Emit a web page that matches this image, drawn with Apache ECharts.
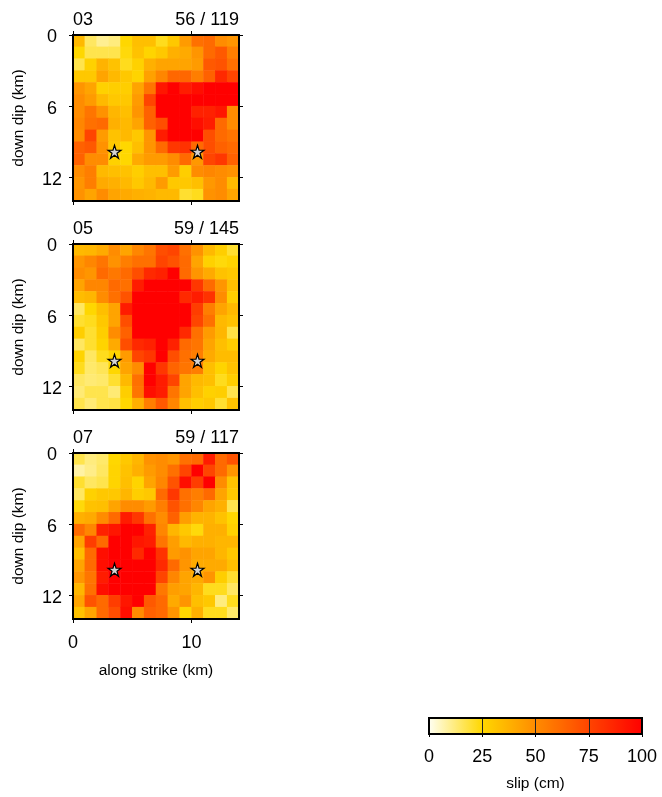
<!DOCTYPE html>
<html><head><meta charset="utf-8">
<style>html,body{margin:0;padding:0;background:#fff}#c{width:662px;height:797px}</style>
<script src="https://cdn.jsdelivr.net/npm/echarts@6/dist/echarts.min.js"></script>
</head><body><div id="c"></div>
<script>
const cellLabels = ['0','1','2','3','4','5','6','7','8','9','10','11','12','13'];
const starX = [3.5, 10.5];
const starY = [9.85, 9.85];
const xTicks = [0, 10];
const yTicks = [0, 6, 12];
const colorStops = ['#fffff2', '#ffd700', '#ff8c00', '#ff4500', '#ff0000'];
const barTicks = [0, 25, 50, 75, 100];

const slip03 = [
 [35,15,10,12,25,33,33,22,30,45,60,62,50,47],
 [25,17,17,17,24,32,26,30,38,40,47,62,68,55],
 [17,27,37,32,22,27,38,42,42,42,45,68,70,60],
 [30,30,42,35,30,26,43,52,63,63,55,65,85,75],
 [47,42,27,28,28,42,58,92,100,90,95,100,100,100],
 [50,45,35,30,30,45,75,100,100,100,100,100,100,100],
 [50,58,48,36,33,47,65,100,100,100,88,88,92,50],
 [52,60,62,38,35,42,65,72,100,100,95,90,62,50],
 [50,75,45,32,35,30,47,90,100,100,100,72,62,58],
 [65,68,48,30,25,33,47,62,80,82,62,72,65,62],
 [65,50,50,27,25,40,45,45,50,62,46,75,80,65],
 [50,55,35,33,32,28,33,33,45,28,50,52,50,48],
 [47,55,40,38,35,30,35,45,30,30,33,46,50,35],
 [48,42,50,42,40,38,37,35,35,20,22,48,50,42]
];
const slip05 = [
 [35,36,40,50,42,52,58,72,75,60,48,35,28,20],
 [47,52,58,48,55,60,60,75,70,62,42,27,24,26],
 [50,47,62,57,62,72,85,88,100,62,47,40,32,30],
 [42,52,52,62,60,90,100,100,100,100,80,62,47,33],
 [34,36,50,60,70,100,100,100,100,85,90,82,50,28],
 [15,25,33,42,90,100,100,100,100,100,78,55,42,35],
 [20,22,30,42,72,100,100,100,100,100,75,60,35,32],
 [28,20,28,50,65,100,100,100,100,85,60,45,36,18],
 [15,20,26,40,72,85,88,100,88,62,58,42,33,28],
 [26,15,22,26,45,75,80,100,72,60,55,40,34,34],
 [22,14,16,25,42,50,100,80,64,58,55,33,26,32],
 [15,13,14,20,35,60,100,90,75,42,35,33,22,28],
 [13,17,17,13,28,58,95,90,58,42,33,27,28,17],
 [17,13,17,18,25,38,55,68,52,33,28,30,20,32]
];
const slip07 = [
 [17,12,14,25,30,36,48,50,47,60,62,90,62,70],
 [8,11,15,26,32,38,45,50,60,75,100,75,62,47],
 [20,15,17,26,33,26,42,52,70,95,78,100,50,32],
 [15,27,30,30,36,28,30,62,80,60,55,62,42,30],
 [24,32,33,42,50,50,45,55,70,60,52,42,38,17],
 [38,40,50,62,90,80,60,50,65,44,37,37,32,25],
 [62,52,88,92,100,100,88,52,36,30,24,38,38,27],
 [42,78,62,100,100,92,90,58,44,35,38,38,36,36],
 [33,62,95,100,100,85,100,82,45,48,42,42,36,30],
 [42,62,95,100,100,100,100,85,62,47,40,40,40,33],
 [47,58,90,100,100,100,100,75,52,42,40,47,28,20],
 [36,60,95,100,100,100,100,57,44,42,36,22,22,15],
 [42,70,62,78,92,100,68,62,40,47,33,30,12,22],
 [32,42,62,72,95,50,65,62,47,25,38,22,22,14]
];
const panelIds = ['03', '05', '07'];
const panelCounts = ['56 / 119', '59 / 145', '59 / 117'];
const panelData = [slip03, slip05, slip07];
const panelTops = [35, 244, 453];

const FONT = '"Liberation Sans", Arial, sans-serif';
const STAR = 'path://M50 0 L61.8 36.3 L100 36.3 L69.1 58.8 L80.9 95.1 L50 72.7 L19.1 95.1 L30.9 58.8 L0 36.3 L38.2 36.3 Z';
const line = w => ({show: true, onZero: false, lineStyle: {color: '#000', width: w, cap: 'square'}});
const tick = vals => ({show: true, length: 4, inside: false, lineStyle: {color: '#000', width: 1}, customValues: vals});
const TICKFONT = 18, NAMEFONT = 15.5;

const grids = [], xAxes = [], yAxes = [], series = [], titles = [];
panelIds.forEach((id, p) => {
  grids.push({left: 73, top: panelTops[p], width: 166, height: 166, containLabel: false});
  const last = p === panelIds.length - 1;
  const ax0 = xAxes.length, ay0 = yAxes.length;
  xAxes.push({gridIndex: p, type: 'category', data: cellLabels, show: false});
  xAxes.push({gridIndex: p, type: 'value', position: 'bottom', min: 0, max: 14, z: 5, axisLine: line(2), axisTick: tick(xTicks), splitLine: {show: false},
    axisLabel: {show: last, customValues: xTicks, fontSize: TICKFONT, color: '#000', fontFamily: FONT, margin: 15},
    name: last ? 'along strike (km)' : '', nameLocation: 'middle', nameGap: 44, nameTextStyle: {fontSize: NAMEFONT, color: '#000', fontFamily: FONT}});
  xAxes.push({gridIndex: p, type: 'value', position: 'top', min: 0, max: 14, z: 5, axisLine: line(2), axisTick: tick(xTicks), axisLabel: {show: false}, splitLine: {show: false}});
  yAxes.push({gridIndex: p, type: 'category', data: cellLabels, inverse: true, show: false});
  yAxes.push({gridIndex: p, type: 'value', position: 'left', inverse: true, min: 0, max: 14, z: 5, axisLine: line(2), axisTick: tick(yTicks), splitLine: {show: false},
    axisLabel: {customValues: yTicks, fontSize: TICKFONT, color: '#000', fontFamily: FONT, margin: 21, align: 'center', verticalAlign: 'top', lineHeight: 5},
    name: 'down dip (km)', nameLocation: 'middle', nameGap: 46, nameRotate: 90, nameTextStyle: {fontSize: NAMEFONT, color: '#000', fontFamily: FONT}});
  yAxes.push({gridIndex: p, type: 'value', position: 'right', inverse: true, min: 0, max: 14, z: 5, axisLine: line(2), axisTick: tick(yTicks), axisLabel: {show: false}, splitLine: {show: false}});
  const cells = [];
  panelData[p].forEach((row, r) => row.forEach((v, c) => cells.push([c, r, v])));
  series.push({type: 'heatmap', xAxisIndex: ax0, yAxisIndex: ay0, data: cells, z: 2, itemStyle: {borderWidth: 0}, silent: true});
  series.push({type: 'scatter', xAxisIndex: ax0 + 1, yAxisIndex: ay0 + 1, data: starX.map((x, i) => [x, starY[i]]), z: 6, symbol: STAR, symbolSize: 13,
    itemStyle: {color: '#d3d3d3', borderColor: '#000', borderWidth: 1.2, opacity: 1}, silent: true});
  titles.push({text: id, left: 73, top: panelTops[p] - 24, padding: 0, textStyle: {fontSize: TICKFONT, fontWeight: 'normal', color: '#000', fontFamily: FONT}});
  titles.push({text: panelCounts[p], right: 662 - 239, top: panelTops[p] - 24, padding: 0, textStyle: {fontSize: TICKFONT, fontWeight: 'normal', color: '#000', fontFamily: FONT}});
});

// colour bar frame and scale, drawn over the visualMap ramp
const g = grids.length;
grids.push({left: 429, top: 718, width: 213, height: 16, z: 10});
xAxes.push({gridIndex: g, type: 'value', position: 'bottom', min: 0, max: 100, interval: 25, z: 10, axisLine: line(2), axisTick: {show: true, length: 3, lineStyle: {color: '#000', width: 1}},
  splitLine: {show: true, lineStyle: {color: '#222', width: 1}},
  axisLabel: {fontSize: TICKFONT, color: '#000', fontFamily: FONT, margin: 14, customValues: barTicks},
  name: 'slip (cm)', nameLocation: 'middle', nameGap: 42, nameTextStyle: {fontSize: NAMEFONT, color: '#000', fontFamily: FONT}});
xAxes.push({gridIndex: g, type: 'value', position: 'top', min: 0, max: 100, z: 10, axisLine: line(2), axisTick: {show: false}, axisLabel: {show: false}, splitLine: {show: false}});
yAxes.push({gridIndex: g, type: 'value', position: 'left', min: 0, max: 1, z: 10, axisLine: line(2), axisTick: {show: false}, axisLabel: {show: false}, splitLine: {show: false}});
yAxes.push({gridIndex: g, type: 'value', position: 'right', min: 0, max: 1, z: 10, axisLine: line(2), axisTick: {show: false}, axisLabel: {show: false}, splitLine: {show: false}});

const chart = echarts.init(document.getElementById('c'), null, {renderer: 'canvas'});
chart.setOption({
  animation: false,
  backgroundColor: '#fff',
  title: titles,
  grid: grids,
  xAxis: xAxes,
  yAxis: yAxes,
  visualMap: {
    type: 'continuous', min: 0, max: 100, dimension: 2,
    seriesIndex: series.map((s, i) => s.type === 'heatmap' ? i : -1).filter(i => i >= 0),
    orient: 'horizontal', left: 429, top: 718, itemWidth: 16, itemHeight: 213, padding: 0,
    text: null, showLabel: false, calculable: false, hoverLink: false, z: 1,
    inRange: {color: colorStops}
  },
  series: series
});
</script></body></html>
